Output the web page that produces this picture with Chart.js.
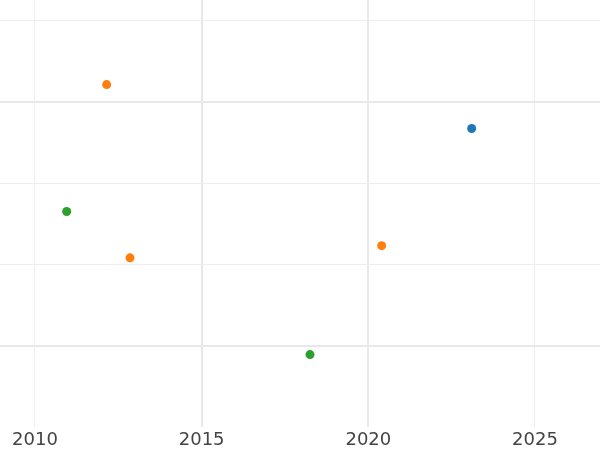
<!DOCTYPE html>
<html>
<head>
<meta charset="utf-8">
<script src="https://cdn.jsdelivr.net/npm/chart.js@4"></script>
<style>
  html, body { margin: 0; padding: 0; background: #fff; }
  #wrap { width: 600px; height: 450px; }
</style>
</head>
<body>
<div id="wrap"><canvas id="scatterChart"></canvas></div>
<script>
// values
const blueYears = [2023.1];
const blueValues = [36.7];
const orangeYears = [2012.15, 2012.85, 2020.4];
const orangeValues = [42.1, 20.8, 22.3];
const greenYears = [2010.95, 2018.25];
const greenValues = [26.5, 8.9];
const xTickLabels = [2010, 2015, 2020, 2025];

function toPoints(xs, ys) {
    return xs.map((x, i) => ({ x: x, y: ys[i] }));
}

document.addEventListener("DOMContentLoaded", function() {
    const ctx = document.getElementById('scatterChart').getContext('2d');
    const heavyX = [2015, 2020];
    const heavyY = [10, 40];

    new Chart(ctx, {
        type: 'scatter',
        data: {
            datasets: [
                { label: 'blue', data: toPoints(blueYears, blueValues), backgroundColor: '#1f77b4' },
                { label: 'orange', data: toPoints(orangeYears, orangeValues), backgroundColor: '#ff7f0e' },
                { label: 'green', data: toPoints(greenYears, greenValues), backgroundColor: '#2ca02c' }
            ]
        },
        options: {
            responsive: true,
            maintainAspectRatio: false,
            animation: false,
            layout: { padding: 0, autoPadding: false },
            elements: { point: { radius: 4.5, borderWidth: 0, hoverRadius: 5 } },
            plugins: { legend: { display: false }, tooltip: { enabled: false } },
            scales: {
                x: {
                    type: 'linear',
                    min: 2008.95,
                    max: 2026.95,
                    afterBuildTicks: function(axis) {
                        axis.ticks = xTickLabels.map(v => ({ value: v }));
                    },
                    afterFit: function(axis) {
                        axis.height = 23;
                    },
                    border: { display: false },
                    grid: {
                        drawTicks: false,
                        color: c => heavyX.includes(c.tick.value) ? '#e8e8e8' : '#eeeeee',
                        lineWidth: c => heavyX.includes(c.tick.value) ? 2 : 1
                    },
                    ticks: {
                        padding: 4,
                        color: '#444444',
                        font: { family: 'DejaVu Sans', size: 18, lineHeight: 1 },
                        callback: v => String(v)
                    }
                },
                y: {
                    min: 0,
                    max: 52.5,
                    afterBuildTicks: function(axis) {
                        axis.ticks = [10, 20, 30, 40, 50].map(v => ({ value: v }));
                    },
                    border: { display: false },
                    grid: {
                        drawTicks: false,
                        color: c => heavyY.includes(c.tick.value) ? '#e8e8e8' : '#eeeeee',
                        lineWidth: c => heavyY.includes(c.tick.value) ? 2 : 1
                    },
                    ticks: { display: false }
                }
            }
        }
    });
});
</script>
</body>
</html>
